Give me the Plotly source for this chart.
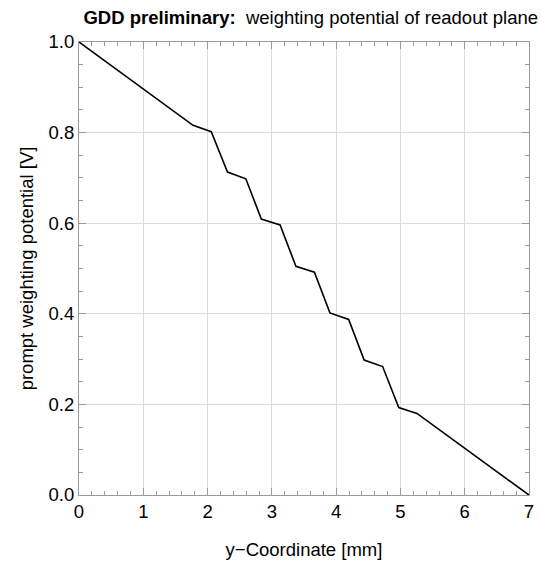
import plotly.graph_objects as go

# Data
y_coordinate_mm = [0.0, 1.774, 2.057, 2.31, 2.595, 2.836, 3.128, 3.374, 3.662,
                   3.903, 4.195, 4.436, 4.723, 4.974, 5.257, 7.0]
weighting_potential_V = [1.0, 0.816, 0.802, 0.713, 0.698, 0.609, 0.596, 0.505, 0.492,
                         0.402, 0.3875, 0.298, 0.2835, 0.193, 0.180, 0.0]

x_tick_vals = [0, 1, 2, 3, 4, 5, 6, 7]
y_tick_vals = [0.0, 0.2, 0.4, 0.6, 0.8, 1.0]

FONT = "Liberation Sans, Arial, Helvetica, sans-serif"
AXIS_GRAY = "#9a9a9a"
GRID_GRAY = "#dcdcdc"
FS = 18.5

fig = go.Figure()
fig.add_trace(go.Scatter(
    x=y_coordinate_mm, y=weighting_potential_V, mode="lines",
    line=dict(color="black", width=1.6), showlegend=False, hoverinfo="skip"))

common_axis = dict(
    showline=True, linecolor=AXIS_GRAY, linewidth=1, mirror="allticks",
    ticks="inside", ticklen=7, tickcolor=AXIS_GRAY, tickwidth=1,
    showgrid=True, gridcolor=GRID_GRAY, gridwidth=1,
    zeroline=False,
    tickfont=dict(family=FONT, size=FS, color="black"),
)

fig.update_xaxes(
    range=[0, 7], tickvals=x_tick_vals, ticktext=[str(v) for v in x_tick_vals],
    minor=dict(ticks="inside", dtick=0.2, ticklen=4, tickcolor=AXIS_GRAY, showgrid=False),
    title=dict(text="y\u2212Coordinate [mm]", font=dict(family=FONT, size=FS, color="black"),
               standoff=21),
    **common_axis)
fig.update_yaxes(
    range=[0, 1], tickvals=y_tick_vals, tickformat=".1f",
    minor=dict(ticks="inside", dtick=0.05, ticklen=4, tickcolor=AXIS_GRAY, showgrid=False),
    title=dict(text="prompt weighting potential [V]", font=dict(family=FONT, size=FS, color="black"),
               standoff=10),
    **common_axis)

fig.update_layout(
    width=541, height=563,
    margin=dict(l=79, r=7, t=42, b=66),
    paper_bgcolor="white", plot_bgcolor="white",
    font=dict(family=FONT, size=FS, color="black"),
    title=dict(
        text="<b>GDD preliminary:</b>\u00a0\u00a0weighting potential of readout plane",
        font=dict(family=FONT, size=18.5, color="black"),
        xref="container", x=538 / 541, xanchor="right",
        yref="container", y=1 - 18 / 563, yanchor="middle"),
)

fig.write_html("out.html")
